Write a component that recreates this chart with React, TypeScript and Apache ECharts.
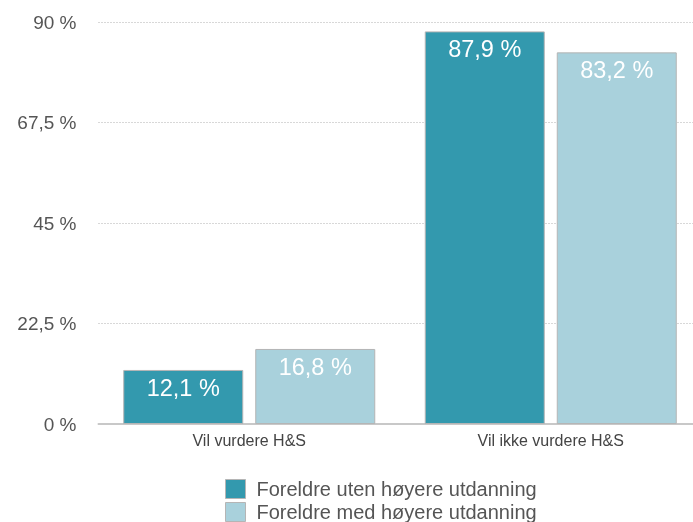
import React, { useEffect, useRef } from "react";
import * as echarts from "echarts";

const categories = ["Vil vurdere H&S", "Vil ikke vurdere H&S"];
const seriesNames = ["Foreldre uten høyere utdanning", "Foreldre med høyere utdanning"];
const withoutHigherEd = [12.1, 87.9];
const withHigherEd = [16.8, 83.2];
const colors = ["#3399ae", "#a9d1dc"];

const fmt = (v: number) => String(v).replace(".", ",") + " %";

export default function App() {
  const ref = useRef<HTMLDivElement>(null);
  useEffect(() => {
    if (!ref.current) return;
    const chart = echarts.init(ref.current, undefined, { renderer: "svg" });
    const font = "'Liberation Sans', Arial, Helvetica, sans-serif";
    const mk = (name: string, data: number[], color: string) => ({
      name,
      type: "bar",
      data,
      barWidth: 120,
      barGap: "10%",
      itemStyle: { color, borderColor: "#b5b5b5", borderWidth: 1 },
      label: {
        show: true,
        position: "insideTop",
        distance: 6,
        color: "#ffffff",
        fontSize: 23.5,
        fontFamily: font,
        formatter: (p: any) => fmt(p.value),
      },
    });
    const legendBase = {
      orient: "vertical",
      left: 225,
      padding: 0,
      itemWidth: 20,
      itemHeight: 19,
      icon: "rect",
      itemStyle: { borderColor: "#b5b5b5", borderWidth: 1 },
      textStyle: {
        fontSize: 20,
        color: "#555555",
        fontFamily: font,
        padding: [0, 0, 0, 6],
      },
    };
    chart.setOption({
      animation: false,
      textStyle: { fontFamily: font },
      grid: {
        left: 98.5,
        top: 22,
        width: 603,
        height: 402,
        containLabel: false,
        outerBoundsMode: "none",
      },
      legend: [
        { ...legendBase, top: 479, data: [seriesNames[0]] },
        { ...legendBase, top: 502, data: [seriesNames[1]] },
      ],
      xAxis: {
        type: "category",
        data: categories,
        axisLine: { lineStyle: { color: "#c8c8c8", width: 2 } },
        axisTick: { show: false },
        axisLabel: { color: "#444444", fontSize: 16, margin: 8, fontFamily: font },
      },
      yAxis: {
        type: "value",
        min: 0,
        max: 90,
        interval: 22.5,
        axisLine: { show: false },
        axisTick: { show: false },
        axisLabel: {
          color: "#555555",
          fontSize: 19,
          margin: 22,
          fontFamily: font,
          formatter: (v: number) => fmt(v),
        },
        splitLine: { lineStyle: { color: "#b0b0b0", type: [1, 2], width: 1 } },
      },
      series: [
        mk(seriesNames[0], withoutHigherEd, colors[0]),
        mk(seriesNames[1], withHigherEd, colors[1]),
      ],
    });
    return () => chart.dispose();
  }, []);
  return (
    <div
      ref={ref}
      style={{ position: "fixed", left: 0, top: 0, width: 693, height: 522, overflow: "hidden" }}
    />
  );
}
